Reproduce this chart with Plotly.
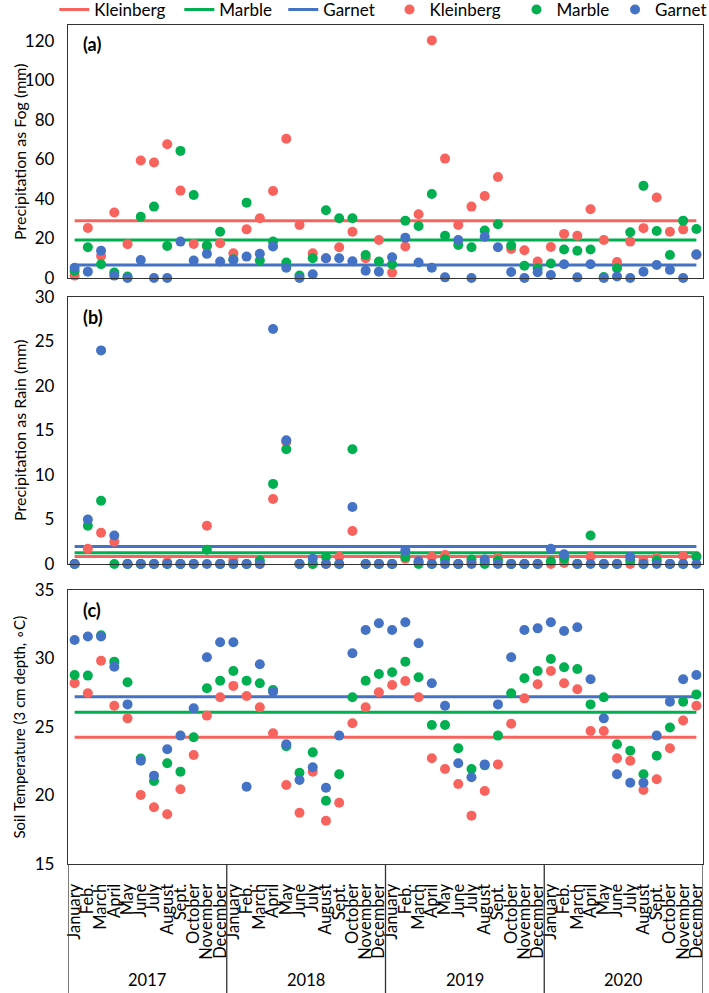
import plotly.graph_objects as go

sites = ["Kleinberg", "Marble", "Garnet"]
colors = ["#F8635E", "#00B050", "#4472C4"]
month_names = ["January", "Feb.", "March", "April", "May", "June", "July",
               "August", "Sept.", "October", "November", "December"]
years = ["2017", "2018", "2019", "2020"]
month_labels = month_names * len(years)

fog_K = [1.2, 25.3, 11.1, 33.1, 17.1, 59.4, 58.4, 67.7, 44.2, 17.2, 16, 17.6,
         12.5, 24.6, 30.2, 44, 70.4, 26.8, 12.5, 10, 15.5, 23.4, 10, 19.2,
         2.7, 15.9, 32.2, 120.2, 60.4, 26.8, 36.1, 41.5, 51.1, 14.7, 14, 8.3,
         15.7, 22.3, 21.4, 34.8, 19.2, 8.1, 18.4, 25.2, 40.7, 23.4, 24.6, 11.6]
fog_M = [3.5, 15.5, 6.9, 2.7, 0.7, 31, 36.1, 16.2, 64.3, 42, 16.4, 23.4,
         9.5, 38.1, 8.8, 18.4, 7.8, 1.2, 10, 34.3, 30.2, 30.2, 11.6, 8.3,
         6.9, 29, 26.3, 42.5, 21.4, 16.7, 15.5, 24, 27.2, 16.4, 6.2, 4.9,
         7.3, 14.4, 13.8, 14.4, 0.5, 4.9, 23.1, 46.6, 23.8, 11.6, 29, 24.8]
fog_G = [5.2, 3.2, 13.8, 1.2, 0, 9.1, 0, 0, 18.4, 8.8, 12.2, 8.3,
         9.1, 10.8, 12.2, 15.9, 5.2, 0, 1.9, 10, 10, 8.4, 3.7, 3.2,
         10.5, 20.4, 7.8, 5.2, 0.3, 19.2, 0, 20.8, 15.5, 3.0, 0, 2.9,
         1.5, 6.9, 0.3, 6.9, 0, 0.7, 0, 3.2, 6.6, 4.1, 0, 12]

rain_K = [0, 1.7, 3.5, 2.5, 0, 0, 0, 0.2, 0, 0, 4.3, 0,
          0.4, 0, 0, 7.3, 13.7, 0, 0, 0, 0.8, 3.7, 0, 0,
          0, 0.6, 0.2, 0.8, 1.0, 0, 0.2, 0.2, 0.7, 0, 0, 0,
          0, 0.1, 0, 0.8, 0, 0, 0, 0.4, 0.7, 0, 0.9, 0.9]
rain_M = [0, 4.3, 7.1, 0, 0, 0, 0, 0, 0, 0, 1.6, 0,
          0, 0, 0.4, 9.0, 12.9, 0, 0, 0.8, 0, 12.9, 0, 0,
          0, 0.8, 0, 0, 0.5, 0, 0.5, 0, 0.4, 0, 0, 0,
          0.3, 0.6, 0, 3.2, 0, 0, 0.4, 0, 0.4, 0, 0, 0.8]
rain_G = [0, 5.0, 24.0, 3.2, 0, 0, 0, 0, 0, 0, 0, 0,
          0, 0, 0, 26.4, 13.9, 0, 0.6, 0, 0, 6.4, 0, 0,
          0, 1.5, 0.3, 0, 0, 0, 0, 0.5, 0, 0, 0, 0,
          1.7, 1.1, 0, 0, 0, 0, 0.8, 0, 0, 0, 0, 0]

soil_K = [28.2, 27.46, 29.84, 26.55, 25.63, 20.04, 19.14, 18.63, 20.45, 22.96, 25.83, 27.17,
          28.0, 27.26, 26.44, 24.54, 20.77, 18.74, 21.74, 18.16, 19.47, 25.27, 26.44, 27.53,
          28.07, 28.36, 27.17, 22.72, 21.93, 20.84, 18.53, 20.33, 22.27, 25.24, 27.09, 28.12,
          29.09, 28.19, 27.75, 24.71, 24.71, 22.72, 22.54, 20.4, 21.18, 23.45, 25.48, 26.55]
soil_M = [28.8, 28.75, 31.7, 29.77, 28.26, 22.7, 21.06, 22.35, 21.74, 24.25, 27.83, 28.38,
          29.09, 28.38, 28.19, 27.7, 23.6, 21.66, 23.15, 19.62, 21.55, 27.17, 28.38, 28.87,
          28.99, 29.77, 28.63, 25.15, 25.15, 23.45, 21.93, 22.2, 24.37, 27.46, 28.56, 29.09,
          29.96, 29.36, 29.23, 26.65, 27.17, 23.74, 23.27, 21.55, 22.9, 24.96, 26.85, 27.38]
soil_G = [31.35, 31.6, 31.6, 29.4, 26.65, 22.54, 21.45, 23.37, 24.37, 26.36, 30.09, 31.18,
          31.18, 20.64, 29.58, 27.58, 23.74, 21.13, 22.06, 20.57, 24.37, 30.38, 32.08, 32.57,
          32.08, 32.64, 31.11, 28.19, 26.55, 22.35, 21.33, 22.27, 26.65, 30.09, 32.08, 32.2,
          32.64, 32.0, 32.28, 28.48, 25.63, 21.55, 20.93, 20.93, 24.37, 26.85, 28.48, 28.8]

fog_mean = [28.9, 19.2, 6.6]
rain_mean = [0.85, 1.25, 1.95]
soil_mean = [24.25, 26.07, 27.21]

panels = [
    ("(a)", [fog_K, fog_M, fog_G], fog_mean, "Precipitation as Fog (mm)", [0, 128], 20, 16),
    ("(b)", [rain_K, rain_M, rain_G], rain_mean, "Precipitation as Rain (mm)", [0, 30], 5, 16),
    ("(c)", [soil_K, soil_M, soil_G], soil_mean, "Soil Temperature (3 cm depth, \u2218C)", [15, 35], 5, 15),
]
domains = [[0.6985, 1.0], [0.3576, 0.6758], [0.0, 0.3266]]

# legend entry positions (paper x): three line entries, then three marker entries
legend_x = [-0.0216, 0.1753, 0.339, 0.5063, 0.7063, 0.8615]
legend_ids = ["legend", "legend2", "legend3", "legend4", "legend5", "legend6"]

FONT = "Lato"
xs = list(range(len(month_labels)))

fig = go.Figure()
for p, (lab, series, means, ytitle, yr, dt, tsize) in enumerate(panels):
    xa = "x" if p == 0 else f"x{p+1}"
    ya = "y" if p == 0 else f"y{p+1}"
    for s in range(3):
        fig.add_trace(go.Scatter(
            x=[xs[0], xs[-1]], y=[means[s], means[s]], mode="lines",
            line=dict(color=colors[s], width=3), name=sites[s],
            showlegend=(p == 0), legend=legend_ids[s],
            xaxis=xa, yaxis=ya, hoverinfo="skip"))
    for s in range(3):
        fig.add_trace(go.Scatter(
            x=xs, y=series[s], mode="markers",
            marker=dict(color=colors[s], size=10), name=sites[s],
            showlegend=(p == 0), legend=legend_ids[s + 3], cliponaxis=False,
            xaxis=xa, yaxis=ya))
    axis_common = dict(showline=True, linecolor="#333333", linewidth=1.3, mirror=True,
                       showgrid=False, zeroline=False)
    fig.layout[f"xaxis{'' if p == 0 else p+1}"] = dict(
        axis_common, range=[-0.5, len(xs) - 0.5], domain=[0, 1],
        anchor=ya, tickmode="array", tickvals=xs,
        ticktext=month_labels, showticklabels=(p == 2), tickangle=-90,
        ticks="", ticklabelstandoff=12,
        tickfont=dict(family=FONT, size=16.5, color="black"))
    fig.layout[f"yaxis{'' if p == 0 else p+1}"] = dict(
        axis_common, range=yr, domain=domains[p], anchor=xa, dtick=dt, tick0=0,
        ticks="", ticklabelstandoff=9,
        tickfont=dict(family=FONT, size=17, color="black"))
    # y-axis title, centred on the panel
    fig.add_annotation(text=ytitle, xref="paper", yref=f"{ya} domain",
                       x=-0.0764, y=0.5, xanchor="center", yanchor="middle",
                       textangle=-90, showarrow=False,
                       font=dict(family=FONT, size=tsize, color="black"))
    fig.add_annotation(text=f"<b>{lab}</b>", xref=f"{xa} domain", yref=f"{ya} domain",
                       x=0.02, y=0.975, xanchor="left", yanchor="top", showarrow=False,
                       font=dict(family=FONT, size=18, color="black"))

# year divider lines and year labels under the bottom axis
n_per_year = len(month_names)
for k in range(len(years) + 1):
    xb = k * n_per_year - 0.5
    fig.add_shape(type="line", xref="x3", yref="paper", x0=xb, x1=xb, y0=0, y1=-0.2,
                  line=dict(color="#333333", width=1.3))
for k, yv in enumerate(years):
    fig.add_annotation(text=yv, xref="x3", yref="paper",
                       x=k * n_per_year + (n_per_year - 1) / 2, y=-0.138,
                       xanchor="center", yanchor="middle", showarrow=False,
                       font=dict(family=FONT, size=16.5, color="black"))

legend_common = dict(orientation="h", xanchor="left", y=1.0179, yanchor="middle",
                     font=dict(family=FONT, size=17, color="black"),
                     bgcolor="rgba(0,0,0,0)")
legends = {lid: dict(legend_common, x=lx) for lid, lx in zip(legend_ids, legend_x)}

fig.update_layout(
    width=709, height=993,
    margin=dict(l=68, r=6, t=25, b=129, autoexpand=False),
    paper_bgcolor="white", plot_bgcolor="white",
    font=dict(family=FONT, size=15, color="black"),
    showlegend=True,
    **legends,
)

fig.write_html("out.html", config={"displayModeBar": False},
               post_script="document.body.style.margin='0';document.body.style.overflow='hidden';")
